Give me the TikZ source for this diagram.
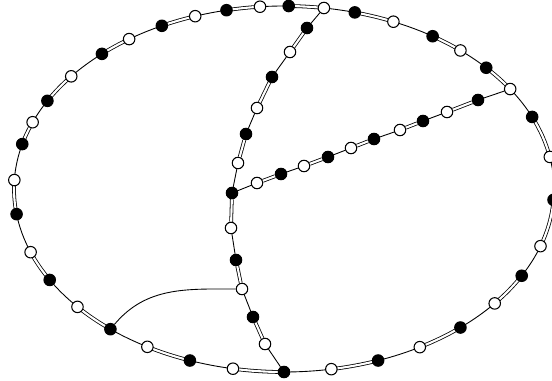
\documentclass[tikz,border=0pt]{standalone}
\usetikzlibrary{backgrounds}
\tikzset{
  vtx/.style={circle,draw,line width=0.6pt,minimum size=0.23cm,inner sep=0pt},
  bv/.style={vtx,fill=black},
  wv/.style={vtx,fill=white},
  ln/.style={line width=0.5pt},
  dbl/.style={double,line width=0.45pt,double distance=1.2pt},
}
% pairs on the outer ring: index / angle of black / angle of white / next angle
\def\ring{0/89/81.5/74.8, 2/74.8/66.1/56.6, 4/56.6/49.2/41.5, 6/41.5/33.1/23.2,
  8/23.2/10.1/-3.4, 10/-3.4/-18.2/-28.3, 12/-28.3/-38.7/-49.2, 14/-49.2/-59.8/-69.6,
  16/-69.6/-79.9/-90, 18/-90/-100.9/-110.4, 20/-110.4/-120.4/-130, 22/-130/-139.9/-150.2,
  24/-150.2/-159.8/-172.1, 26/-172.1/-182.8/-194.2, 28/-194.2/-201.4/-208.8,
  30/-208.8/-218/-227.6, 32/-227.6/-235/-243.1, 34/-243.1/-250.8/-257.7, 36/-257.7/-264.9/-271}
\begin{document}
\begin{tikzpicture}
  \useasboundingbox (-5.68,-3.82) rectangle (5.36,3.78);
  % outer ring
  \foreach \k/\ta/\tb/\tc [evaluate=\k as \j using int(\k+1)] in \ring {
    \node[bv] (o\k) at (\ta:5.4 and 3.66) {};
    \node[wv] (o\j) at (\tb:5.4 and 3.66) {};
  }
  % left chord
  \foreach \n/\px/\py/\c in {1/0.46/3.22/bv, 2/0.12/2.74/wv, 3/-0.24/2.24/bv, 4/-0.54/1.62/wv,
    5/-0.76/1.10/bv, 6/-0.92/0.52/wv, 7/-1.04/-0.08/bv, 8/-1.06/-0.78/wv,
    9/-0.96/-1.42/bv, 10/-0.84/-2.00/wv, 11/-0.62/-2.56/bv, 12/-0.38/-3.10/wv}
    \node[\c] (a\n) at (\px,\py) {};
  % right chord
  \foreach \n/\px/\py/\c in {1/-0.54/0.12/wv, 2/-0.06/0.30/bv, 3/0.40/0.46/wv, 4/0.88/0.64/bv,
    5/1.34/0.82/wv, 6/1.80/1.00/bv, 7/2.32/1.18/wv, 8/2.78/1.36/bv,
    9/3.26/1.54/wv, 10/3.88/1.78/bv}
    \node[\c] (b\n) at (\px,\py) {};
  \begin{scope}[on background layer]
    \foreach \k/\ta/\tb/\tc [evaluate=\k as \j using int(\k+1)] in \ring {
      \draw[dbl] (o\k) arc[start angle=\ta, end angle=\tb, x radius=5.4, y radius=3.66];
      \draw[ln] (o\j) arc[start angle=\tb, end angle=\tc, x radius=5.4, y radius=3.66];
    }
  \end{scope}
  \foreach \u/\v in {a1/a2,a3/a4,a5/a6,a7/a8,a9/a10,a11/a12,b1/b2,b3/b4,b5/b6,b7/b8,b9/b10}
    \draw[dbl] (\u) -- (\v);
  \foreach \u/\v in {o1/a1,a2/a3,a4/a5,a6/a7,a8/a9,a10/a11,a12/o18,a7/b1,b2/b3,b4/b5,b6/b7,b8/b9,b10/o7}
    \draw[ln] (\u) -- (\v);
  \draw[ln] (o22) to[out=50,in=180] (a10);
\end{tikzpicture}
\end{document}
